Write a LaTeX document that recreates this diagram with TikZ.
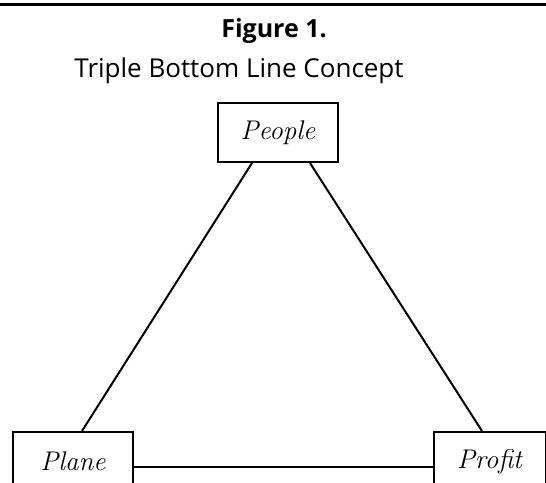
\documentclass[tikz,border=0pt]{standalone}
\usepackage{fontspec}
\setsansfont{Open Sans}
\usetikzlibrary{calc}
\begin{document}
\begin{tikzpicture}[x=1pt,y=-1pt,
  box/.style={draw, line width=2pt, inner sep=0pt, minimum width=120pt, minimum height=59pt,
    font=\fontsize{27}{27}\selectfont\itshape},
  link/.style={line width=2pt},
  ttl/.style={anchor=base, inner sep=0pt, font=\sffamily\fontsize{26}{26}\selectfont}]
\useasboundingbox (0,0) rectangle (546,482);
\clip (0,0) rectangle (546,482);
\draw[line width=3pt] (0,4) -- (546,4);
\node[ttl, font=\sffamily\bfseries\fontsize{25}{25}\selectfont] (title) at (274,37) {Figure 1.};
\node[ttl] (subtitle) at (239,77) {Triple Bottom Line Concept};
\node[box] (people) at (278,132.5) {People};
\node[box] (plane) at (73,461.5) {Plane};
\node[box, minimum width=112pt] (profit) at (489.5,461.5) {Profit};
\draw[link] ($(people.south)+(-26,0)$) -- ($(plane.north)+(9,0)$);
\draw[link] ($(people.south)+(32,0)$) -- ($(profit.north)+(-7.5,0)$);
\draw[link] ($(plane.east)+(0,5.5)$) -- ($(profit.west)+(0,5.5)$);
\end{tikzpicture}
\end{document}
